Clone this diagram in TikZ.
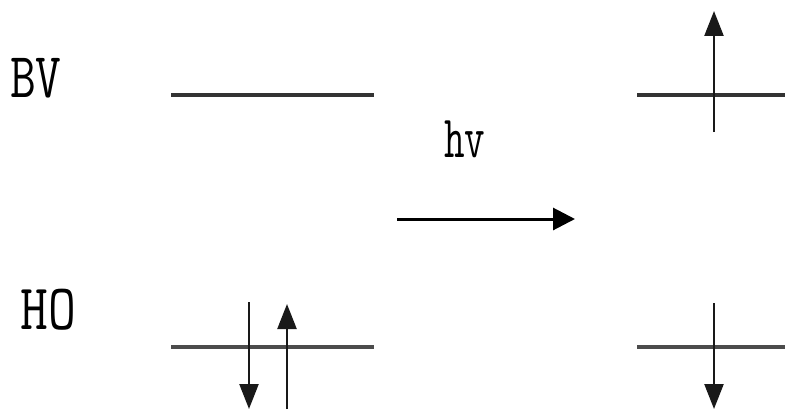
\documentclass[tikz,border=0pt]{standalone}
\usepackage{fontspec}
\usetikzlibrary{arrows.meta}
\begin{document}
\begin{tikzpicture}[x=1pt,y=-1pt,
  level/.style={line width=3.5pt,draw=black!70},
  spin/.style={line width=2.4pt,draw=black!90,-{Triangle[length=25pt,width=19pt]}},
  photon/.style={line width=3pt,-{Triangle[length=22pt,width=22pt]}},
  lbl/.style={inner sep=0pt,anchor=base west}]
\useasboundingbox (0,0) rectangle (785,412);
% labels
\node[lbl,font=\ttfamily\fontsize{50}{50}\selectfont] (bv) at (10,97) {\scalebox{1}[1.28]{BV}};
\node[lbl,font=\ttfamily\fontsize{54}{54}\selectfont] (ho) at (20,329) {\scalebox{1}[1.2]{HO}};
\node[lbl,font=\ttfamily\fontsize{40}{40}\selectfont] (hv) at (444,157) {\scalebox{1}[1.5]{hv}};
% levels
\coordinate (bvL1) at (171,95);  \coordinate (bvL2) at (374,95);
\coordinate (hoL1) at (171,347); \coordinate (hoL2) at (374,347);
\coordinate (bvR1) at (637,95);  \coordinate (bvR2) at (785,95);
\coordinate (hoR1) at (637,347); \coordinate (hoR2) at (785,347);
\draw[level,draw=black!80] (bvL1) -- (bvL2);
\draw[level] (hoL1) -- (hoL2);
\draw[level,draw=black!80] (bvR1) -- (bvR2);
\draw[level] (hoR1) -- (hoR2);
% photon arrow
\coordinate (p1) at (397,219); \coordinate (p2) at (575,219);
\draw[photon] (p1) -- (p2);
% spins
\coordinate (s1a) at (249,302); \coordinate (s1b) at (249,409);
\coordinate (s2a) at (287,409); \coordinate (s2b) at (287,304);
\coordinate (s3a) at (714,132); \coordinate (s3b) at (714,11);
\coordinate (s4a) at (714,303); \coordinate (s4b) at (714,409);
\draw[spin] (s1a) -- (s1b);
\draw[spin] (s2a) -- (s2b);
\draw[spin] (s3a) -- (s3b);
\draw[spin] (s4a) -- (s4b);
\end{tikzpicture}
\end{document}
